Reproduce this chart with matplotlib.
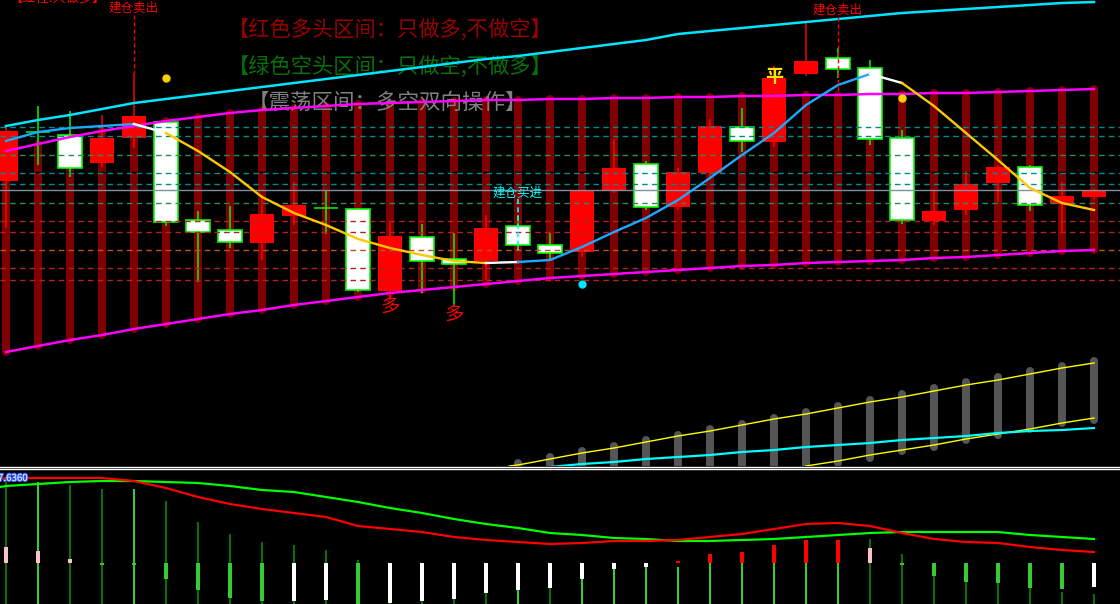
import numpy as np
import matplotlib.pyplot as plt
import matplotlib.patheffects as pe

plt.rcParams['font.family'] = ['Noto Sans CJK SC', 'DejaVu Sans']

idx = np.arange(35)

# candles (screen levels, smaller = higher)
candle_top = [131, 132, 135, 138, 116, 122, 220, 230, 214, 205, 208, 209, 236, 237, 259, 228, 226, 245,
              191, 168, 164, 172, 126, 127, 78, 61, 58, 68, 138, 211, 184, 167, 167, 196, 190]
candle_bot = [181, 132, 168, 163, 138, 222, 232, 242, 243, 216, 208, 290, 291, 261, 264, 261, 245, 253,
              252, 191, 207, 207, 173, 141, 142, 74, 69, 139, 220, 221, 210, 183, 205, 204, 197]
candle_high = [125, 106, 111, 115, 73, 122, 211, 206, 195, 182, 191, 208, 222, 224, 233, 215, 215, 233,
               190, 139, 161, 168, 119, 108, 66, 22, 48, 60, 130, 190, 171, 165, 165, 182, 189]
candle_low = [228, 165, 177, 167, 148, 226, 282, 248, 260, 225, 234, 292, 300, 293, 305, 280, 250, 260,
              257, 193, 210, 210, 177, 152, 147, 76, 78, 145, 224, 225, 215, 202, 211, 232, 199]
candle_kind = ['r', 'd', 'w', 'r', 'r', 'w', 'w', 'w', 'r', 'r', 'd', 'w', 'r', 'w', 'w', 'r', 'w', 'w',
               'r', 'r', 'w', 'r', 'r', 'w', 'r', 'r', 'w', 'w', 'w', 'r', 'r', 'r', 'w', 'r', 'r']

band_upper = [151, 144, 137, 131, 126, 121, 117, 113, 110, 108, 106, 104, 103, 102, 101, 100, 100, 99,
              99, 98, 98, 97, 97, 96, 96, 95, 95, 94, 94, 93, 93, 92, 91, 90, 89]
band_lower = [352, 346, 340, 335, 329, 324, 319, 314, 310, 305, 301, 297, 293, 290, 287, 284, 281, 278,
              276, 274, 272, 270, 268, 266, 265, 263, 262, 261, 260, 258, 257, 255, 253, 251, 250]
channel_top = [126, 120, 115, 109, 103, 99, 95, 91, 87, 83, 79, 75, 71, 67, 63, 59, 56, 52,
               48, 44, 40, 34, 31, 28, 25, 22, 19, 16, 13, 11, 9, 7, 5, 3, 2]
ma_line = [141, 132, 128, 126, 124, 133, 151, 172, 197, 213, 225, 239, 248, 255, 261, 263, 262, 260,
           247, 232, 218, 200, 178, 155, 133, 105, 85, 74, 83, 106, 133, 160, 188, 203, 210]
ma_segments = [(0, 4, '#1EA8FF'), (4, 5, 'white'), (5, 15, '#FFC800'), (15, 16, 'white'),
               (16, 27, '#1EA8FF'), (27, 28, 'white'), (28, 34, '#FFC800')]

levels = [127, 136, 155, 173, 184, 190, 203, 221, 232, 250, 268, 280]
level_colors = ['#008B8B', '#008B8B', '#2E8B57', '#008B8B', '#008B8B', '#8090A0', '#2E8B57',
                '#B22222', '#B22222', '#C0502A', '#B22222', '#B22222']

# lower overlay in main panel
vol_idx = np.arange(16, 35)
vol_top = [463, 457, 451, 446, 440, 435, 429, 424, 418, 412, 406, 400, 394, 388, 382, 377, 371, 366, 361]
vol_bot = [475, 475, 475, 475, 475, 475, 475, 475, 475, 475, 463, 458, 451, 447, 440, 435, 429, 423, 420]
trend_up_idx = [15.72, 16, 17, 18, 19, 20, 21, 22, 23, 24, 25, 26, 27, 28, 29, 30, 31, 32, 33, 34]
trend_up = [466, 465, 459, 453, 448, 442, 436, 431, 425, 419, 414, 408, 402, 397, 391, 385, 380, 374, 368, 363]
trend_dn_idx = np.arange(25, 35)
trend_dn = [466, 461, 455, 450, 445, 439, 434, 429, 423, 418]
avg_idx = np.arange(17, 35)
avg_line = [467, 464, 462, 459, 457, 455, 452, 450, 447, 445, 443, 440, 438, 436, 433, 431, 430, 428]

# indicator panel
ind_green = [486, 484, 482, 481, 481, 482, 483, 486, 490, 492, 497, 502, 508, 513, 519, 524, 528, 533,
             535, 538, 539, 541, 541, 540, 539, 537, 535, 533, 532, 532, 532, 532, 535, 537, 539]
ind_red = [478, 478, 478, 478, 481, 488, 497, 504, 509, 513, 517, 526, 529, 532, 537, 540, 542, 544,
           543, 541, 541, 540, 537, 534, 529, 524, 523, 526, 533, 539, 542, 543, 547, 550, 552]
hist_base = 563
hist_val = [547, 551, 559, 565, 565, 579, 590, 598, 601, 601, 600, 606, 603, 601, 599, 593, 590, 588,
            579, 569, 567, 561, 554, 552, 545, 540, 540, 548, 565, 576, 582, 583, 588, 589, 587]
hist_kind = ['p', 'p', 'p', 'g', 'g', 'g', 'g', 'g', 'g', 'w', 'w', 'g', 'w', 'w', 'w', 'w', 'w', 'w',
             'w', 'w', 'w', 'r', 'r', 'r', 'r', 'r', 'r', 'p', 'g', 'g', 'g', 'g', 'g', 'g', 'w']
stem_top = [482, 482, 485, 489, 489, 501, 522, 534, 542, 545, 550, 560, 603, 601, 599, 593, 590, 588,
            579, 569, 567, 567, 563, 563, 563, 563, 563, 539, 554, 576, 582, 583, 588, 592, 594]
stem_light = [0, 1, 0, 0, 1, 0, 0, 0, 0, 0, 0, 0, 0, 0, 0, 0, 1, 0,
              1, 1, 1, 1, 1, 1, 1, 1, 1, 0, 0, 0, 0, 0, 0, 0, 0]

fig = plt.figure(figsize=(11.2, 6.04), dpi=100, facecolor='black')
ax = fig.add_axes([0, 138 / 604, 1, 466 / 604], facecolor='black')
ax2 = fig.add_axes([0, 0, 1, 138 / 604], facecolor='black')
for a in (ax, ax2):
    a.set_xlim(-0.1875, 34.8125)
    a.axis('off')
ax.set_ylim(466, 0)
ax2.set_ylim(604, 466)

px = 0.72  # points per pixel

# dark red columns between the bands
ax.vlines(idx, band_upper, band_lower, color='#800000', lw=8 * px, capstyle='round', zorder=1)
ax.scatter(idx, [172] * 35, marker='_', color='black', s=20, lw=1, zorder=1.2)

# gray overlay bars + trend lines
ax.vlines(vol_idx, vol_top, vol_bot, color='#555555', lw=8 * px, capstyle='round', zorder=1)
ax.plot(trend_up_idx, trend_up, color='#FFFF00', lw=1, zorder=3)
ax.plot(trend_dn_idx, trend_dn, color='#FFFF00', lw=1, zorder=3)
ax.plot(avg_idx, avg_line, color='#00FFFF', lw=2.2 * px, zorder=3)

# candles
for i in idx:
    k = candle_kind[i]
    wick = '#FF0000' if k == 'r' else '#00FF00'
    ax.vlines(i, candle_high[i], candle_low[i], color=wick, lw=1.5 * px, zorder=2)
    if k == 'r':
        ax.bar(i, candle_bot[i] - candle_top[i], bottom=candle_top[i], width=0.75,
               color='#FF0000', zorder=2.1)
    elif k == 'w':
        ax.bar(i, candle_bot[i] - candle_top[i], bottom=candle_top[i], width=0.72,
               color='white', edgecolor='#00FF00', lw=1.6 * px, zorder=2.1)
    else:
        ax.hlines(candle_top[i], i - 0.38, i + 0.38, color='#00FF00', lw=1.5 * px, zorder=2.1)

# horizontal levels
for y, c in zip(levels, level_colors):
    ls = '-' if c == '#8090A0' else (0, (4, 3))
    ax.axhline(y, color=c, lw=1, ls=ls, zorder=2.6)

# texts
ax.text(6.94, 31, '【红色多头区间：只做多,不做空】', color='#980000', fontsize=15.3,
        ha='left', va='center', zorder=2.5)
ax.text(6.94, 68, '【绿色空头区间：只做空,不做多】', color='#087008', fontsize=15.3,
        ha='left', va='center', zorder=2.5)
ax.text(7.56, 103, '【震荡区间：多空双向操作】', color='#808080', fontsize=15.5,
        ha='left', va='center', zorder=2.5)
ax.text(0.1, -2, '【红柱:只做多】', color='#FF0000', fontsize=9.5,
        ha='left', va='center', zorder=5)

# band lines and moving average
ax.plot(idx, channel_top, color='#00E5FF', lw=2.5 * px, zorder=4)
ax.plot(idx, band_upper, color='#FF00FF', lw=2.5 * px, zorder=4)
ax.plot(idx, band_lower, color='#FF00FF', lw=2.5 * px, zorder=4)
for a, b, c in ma_segments:
    ax.plot(idx[a:b + 1], ma_line[a:b + 1], color=c, lw=1.7, zorder=4.1)

# signals
sell_idx = [4, 26]
sell_y = [8, 10]
sell_end = [73, 93]
for i, y, e in zip(sell_idx, sell_y, sell_end):
    ax.text(i, y, '建仓卖出', color='#FF0000', fontsize=9, ha='center', va='center', zorder=5)
    ax.vlines(i, y + 7, e, color='#FF0000', lw=1, ls=(0, (3, 2)), zorder=4.5)
ax.text(16, 193, '建仓买进', color='#00FFFF', fontsize=9, ha='center', va='center', zorder=5)
ax.vlines(16, 199, 250, color='#00FFFF', lw=1.2, ls=(0, (3, 2)), zorder=4.5)
for i, y in zip([12, 14], [307, 315]):
    ax.text(i, y, '多', color='#FF0000', fontsize=14, ha='center', va='center', zorder=5)
ax.text(24, 76, '平', color='#FFE600', fontsize=13, fontweight='bold', ha='center', va='center', zorder=5)
ax.plot([5, 28], [78, 98], ls='none', marker='o', ms=5, color='#FFD000', zorder=5)
ax.plot([18], [284], ls='none', marker='o', ms=5, color='#00E5FF', zorder=5)

# indicator panel
ax2.axhline(467, color='white', lw=1)
ax2.axhline(469, color='white', lw=1)
ax2.vlines(idx, stem_top, 610, colors=['#32CD32' if s else '#0A6E0A' for s in stem_light],
           lw=2 * px, zorder=1)
hist_colors = {'p': '#FFC0CB', 'g': '#32CD32', 'w': 'white', 'r': '#FF0000'}
ax2.bar(idx, np.array(hist_val) - hist_base, bottom=hist_base, width=0.1,
        color=[hist_colors[k] for k in hist_kind], zorder=2)
x_ext = np.concatenate([[-0.19], idx])
ax2.plot(x_ext, [ind_green[0] + 1] + ind_green, color='#00FF00', lw=2.2 * px, zorder=3)
ax2.plot(x_ext, [ind_red[0] + 1] + ind_red, color='#FF0000', lw=2.2 * px, zorder=3)
ax2.text(-0.25, 478, '7.6360', color='white', fontsize=7, ha='left', va='center', zorder=4,
         path_effects=[pe.withStroke(linewidth=1.5, foreground='#3060FF')])

fig.savefig('out.png', dpi=100, facecolor='black')
